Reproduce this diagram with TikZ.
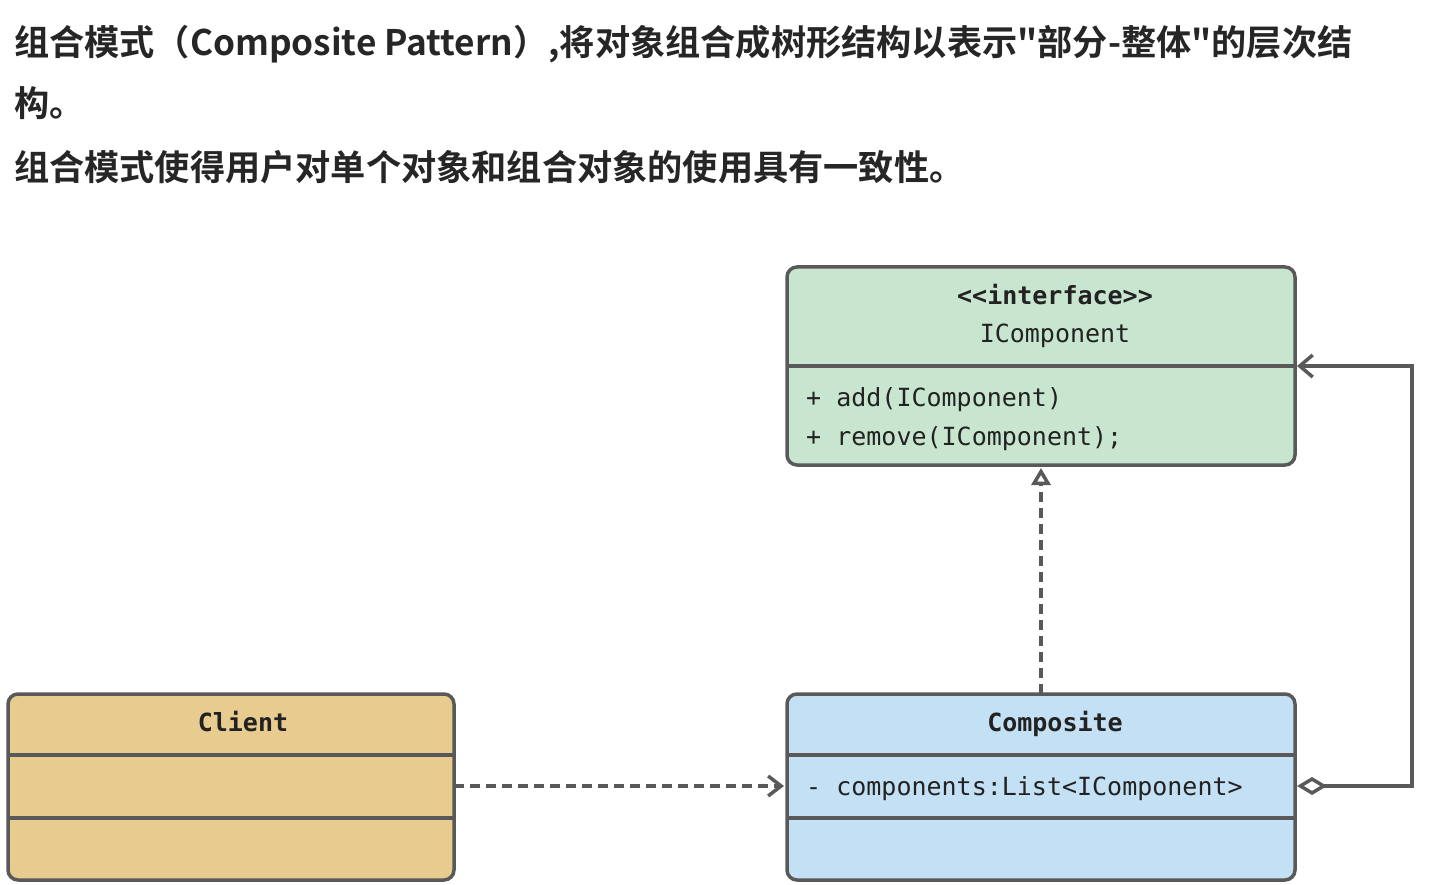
\documentclass[tikz,border=0pt]{standalone}
\usepackage{fontspec}
\usetikzlibrary{arrows.meta}
\newfontfamily\cjkbold[BoldFont={Noto Sans CJK SC Bold}]{Noto Sans CJK SC Bold}
\newfontfamily\monof{DejaVu Sans Mono}
\definecolor{linegray}{HTML}{595959}
\definecolor{titlec}{HTML}{262626}
\definecolor{textc}{HTML}{222222}
\definecolor{greenfill}{HTML}{C8E6CF}
\definecolor{bluefill}{HTML}{C4E0F4}
\definecolor{tanfill}{HTML}{E8CC8F}
\tikzset{
  classbox/.style={draw=linegray, line width=3.5pt, rounded corners=10pt, rectangle, inner sep=0pt, outer sep=0pt, anchor=north west},
  divider/.style={draw=linegray, line width=3.5pt},
  titletext/.style={font=\cjkbold\fontsize{35.2}{40}\selectfont, text=titlec, anchor=base west, inner sep=0pt},
  monotext/.style={font=\monof\fontsize{25}{30}\selectfont, text=textc, inner sep=0pt},
  monobold/.style={font=\monof\bfseries\fontsize{25}{30}\selectfont, text=textc, inner sep=0pt},
  conn/.style={draw=linegray, line width=3.5pt},
  dashconn/.style={conn, dash pattern=on 10pt off 6pt},
}
\begin{document}
\begin{tikzpicture}[x=1pt,y=-1pt]
\useasboundingbox (0,0) rectangle (1430,885);
% title
\node[titletext] (t1) at (14,56) {组合模式（Composite Pattern）,将对象组合成树形结构以表示"部分-整体"的层次结};
\node[titletext] (t2) at (14,117) {构。};
\node[titletext] (t3) at (14,181) {组合模式使得用户对单个对象和组合对象的使用具有一致性。};

% row coordinates
\coordinate (div1) at (0,366);
\coordinate (row2) at (0,786);
\coordinate (bend) at (1412,0);

% IComponent
\node[classbox, fill=greenfill, minimum width=508pt, minimum height=198pt] (icomp) at (787,267) {};
\draw[divider] (icomp.west |- div1) -- (icomp.east |- div1);
\node[monobold, anchor=base] (istereo) at (1055,305) {<<interface>>};
\node[monotext, anchor=base] (iname) at (1055,343) {IComponent};
\node[monotext, anchor=base west] (iadd) at (806,406) {+ add(IComponent)};
\node[monotext, anchor=base west] (irem) at (806,445) {+ remove(IComponent);};

% Composite
\node[classbox, fill=bluefill, minimum width=508pt, minimum height=186pt] (comp) at (787,694) {};
\draw[divider] (comp.west |- 0,755) -- (comp.east |- 0,755);
\draw[divider] (comp.west |- 0,818) -- (comp.east |- 0,818);
\node[monobold, anchor=base] (cname) at (1055,731) {Composite};
\node[monotext, anchor=base west] (cattr) at (806,795) {- components:List<IComponent>};

% Client
\node[classbox, fill=tanfill, minimum width=446pt, minimum height=186pt] (client) at (8,694) {};
\draw[divider] (client.west |- 0,755) -- (client.east |- 0,755);
\draw[divider] (client.west |- 0,818) -- (client.east |- 0,818);
\node[monobold, anchor=base] (clname) at (243,731) {Client};

% connectors
\draw[dashconn, -{Straight Barb[length=13pt,width=20pt,line width=3.5pt]}, shorten >=3pt]
  (client.east |- row2) -- (comp.west |- row2);
\draw[dashconn, -{Triangle[open,length=17pt,width=19pt,line width=3.5pt,fill=white]}, shorten >=3pt]
  (comp.north) -- (icomp.south);
\draw[conn, {Diamond[open,length=30pt,width=18pt,line width=3.5pt,fill=white]}-{Straight Barb[length=13pt,width=22pt,line width=3.5pt]}, shorten <=2pt, shorten >=2pt]
  (comp.east |- row2) -| (bend |- div1) -- (icomp.east |- div1);
\end{tikzpicture}
\end{document}
